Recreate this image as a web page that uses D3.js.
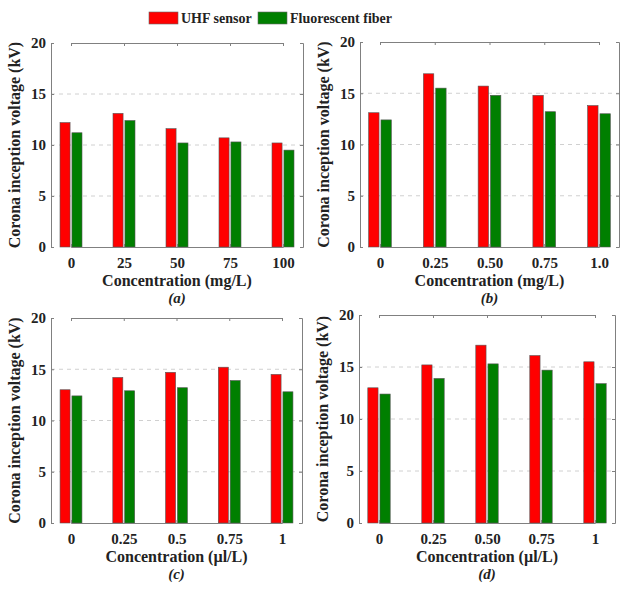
<!DOCTYPE html>
<html>
<head>
<meta charset="utf-8">
<script src="https://cdn.jsdelivr.net/npm/d3@7/dist/d3.min.js"></script>
<style>
  html, body { margin: 0; padding: 0; background: #fff; }
  svg { display: block; }
  text { font-family: "Liberation Serif", "Times New Roman", serif; font-weight: bold; fill: #222; }
</style>
</head>
<body>
<svg id="chart" width="624" height="590"></svg>
<script>
// ---- Data ----
const seriesNames = ["UHF sensor", "Fluorescent fiber"];
const yTicks = [0, 5, 10, 15, 20];

const catsA = ["0", "25", "50", "75", "100"];
const uhfA = [12.2, 13.1, 11.6, 10.7, 10.2];
const fiberA = [11.2, 12.4, 10.2, 10.3, 9.5];

const catsB = ["0", "0.25", "0.50", "0.75", "1.0"];
const uhfB = [13.1, 16.9, 15.7, 14.8, 13.8];
const fiberB = [12.4, 15.5, 14.8, 13.2, 13.0];

const catsC = ["0", "0.25", "0.5", "0.75", "1"];
const uhfC = [13.0, 14.2, 14.7, 15.2, 14.5];
const fiberC = [12.4, 12.9, 13.2, 13.9, 12.8];

const catsD = ["0", "0.25", "0.50", "0.75", "1"];
const uhfD = [13.0, 15.2, 17.1, 16.1, 15.5];
const fiberD = [12.4, 13.9, 15.3, 14.7, 13.4];

const xLabels = ["Concentration (mg/L)", "Concentration (mg/L)", "Concentration (\u00b5l/L)", "Concentration (\u00b5l/L)"];
const panelTags = ["(a)", "(b)", "(c)", "(d)"];
const yLabel = "Corona inception voltage (kV)";

// ---- Layout / style ----
const colors = ["#ff0000", "#007f00"];
const boxes = [
  { x0: 51, x1: 303, y0: 43, y1: 247 },
  { x0: 360, x1: 619, y0: 42, y1: 247 },
  { x0: 51, x1: 302, y0: 318, y1: 523 },
  { x0: 359, x1: 615, y0: 315, y1: 523 }
];
const panels = [
  { cats: catsA, vals: [uhfA, fiberA] },
  { cats: catsB, vals: [uhfB, fiberB] },
  { cats: catsC, vals: [uhfC, fiberC] },
  { cats: catsD, vals: [uhfD, fiberD] }
];

const svg = d3.select("#chart");
svg.append("rect").attr("width", 624).attr("height", 590).attr("fill", "#fff");

panels.forEach((p, i) => {
  const b = boxes[i];
  const w = b.x1 - b.x0, h = b.y1 - b.y0;
  const g = svg.append("g").attr("transform", `translate(${b.x0},${b.y0})`);
  const x = d3.scalePoint().domain(p.cats).range([20, w - 20]);
  const y = d3.scaleLinear().domain([0, 20]).range([h, 0]);
  const barW = x.step() * 0.19;
  const gap = x.step() * 0.035;

  // grid
  g.append("g").selectAll("line").data(yTicks.filter(t => t > 0 && t < 20)).join("line")
    .attr("x1", 0).attr("x2", w)
    .attr("y1", d => y(d)).attr("y2", d => y(d))
    .attr("stroke", "#d0d0d0").attr("stroke-width", 1).attr("stroke-dasharray", "4,4");

  // bars
  p.vals.forEach((series, s) => {
    g.append("g").selectAll("rect").data(series).join("rect")
      .attr("x", (d, k) => s === 0 ? x(p.cats[k]) - gap / 2 - barW : x(p.cats[k]) + gap / 2)
      .attr("y", d => y(d))
      .attr("width", barW)
      .attr("height", d => y(0) - y(d))
      .attr("fill", colors[s])
      .attr("stroke", "#555").attr("stroke-width", 0.6);
  });

  // axes
  const axL = d3.axisLeft(y).tickValues(yTicks).tickSize(-3).tickPadding(5);
  const axR = d3.axisRight(y).tickValues(yTicks).tickSize(-3).tickFormat("");
  const axB = d3.axisBottom(x).tickSize(-3).tickPadding(10);
  const axT = d3.axisTop(x).tickSize(-3).tickFormat("");

  const styleAxis = sel => {
    sel.selectAll("path").attr("stroke", "#808080").attr("stroke-width", 1);
    sel.selectAll("line").attr("stroke", "#808080");
    sel.selectAll("text").attr("font-size", 15).attr("font-family", "Liberation Serif, serif")
      .attr("font-weight", "bold").attr("fill", "#222");
  };
  g.append("g").call(axL).call(styleAxis);
  g.append("g").attr("transform", `translate(${w},0)`).call(axR).call(styleAxis);
  g.append("g").attr("transform", `translate(0,${h})`).call(axB).call(styleAxis);
  g.append("g").call(axT).call(styleAxis);

  // labels
  g.append("text").attr("x", w / 2).attr("y", h + 33)
    .attr("text-anchor", "middle").attr("dominant-baseline", "central")
    .attr("font-size", 16).text(xLabels[i]);
  g.append("text").attr("x", w / 2).attr("y", h + 51)
    .attr("text-anchor", "middle").attr("dominant-baseline", "central")
    .attr("font-size", 15).attr("font-style", "italic").text(panelTags[i]);
  g.append("text")
    .attr("transform", `translate(${-37},${h / 2}) rotate(-90)`)
    .attr("text-anchor", "middle").attr("dominant-baseline", "central")
    .attr("font-size", 16).text(yLabel);
});

// legend
const legendItems = [
  { x: 149, name: seriesNames[0], c: colors[0] },
  { x: 258, name: seriesNames[1], c: colors[1] }
];
const lg = svg.append("g");
legendItems.forEach(it => {
  lg.append("rect").attr("x", it.x).attr("y", 12).attr("width", 29).attr("height", 12)
    .attr("fill", it.c).attr("stroke", "#666").attr("stroke-width", 0.6);
  lg.append("text").attr("x", it.x + 32).attr("y", 18)
    .attr("dominant-baseline", "central").attr("font-size", 14).text(it.name);
});
</script>
</body>
</html>
